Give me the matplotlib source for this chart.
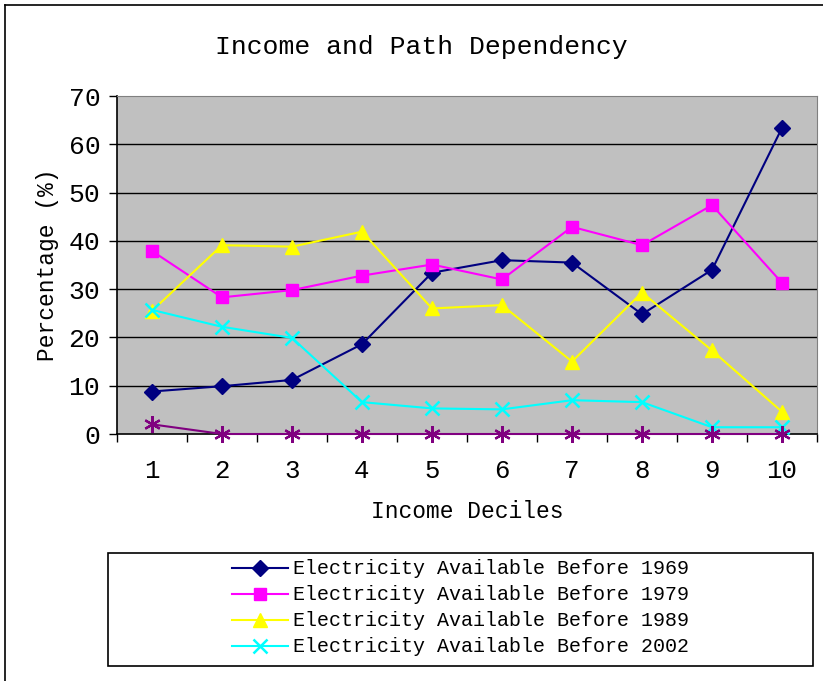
import matplotlib
matplotlib.use("Agg")
import matplotlib.pyplot as plt
from matplotlib.lines import Line2D
from matplotlib.patches import Rectangle

plt.rcParams['font.family'] = ['Liberation Mono', 'DejaVu Sans Mono']

deciles = [1, 2, 3, 4, 5, 6, 7, 8, 9, 10]
before_1969 = [8.8, 9.9, 11.2, 18.6, 33.4, 36.0, 35.5, 24.8, 34.0, 63.4]
before_1979 = [37.9, 28.3, 29.8, 32.8, 35.1, 32.0, 42.9, 39.1, 47.4, 31.3]
before_1989 = [25.5, 39.1, 38.8, 41.9, 26.0, 26.7, 15.0, 29.3, 17.3, 4.6]
before_2002 = [25.7, 22.2, 19.9, 6.6, 5.3, 5.1, 7.0, 6.6, 1.4, 1.4]
unlisted = [2.0, 0, 0, 0, 0, 0, 0, 0, 0, 0]
yticks = [0, 10, 20, 30, 40, 50, 60, 70]

W, H = 823, 681
fig = plt.figure(figsize=(W/100, H/100), dpi=100)

# outer chart frame
fig.add_artist(Line2D([5/W, 5/W], [0, 1-5/H], transform=fig.transFigure, color='black', lw=1.2))
fig.add_artist(Line2D([5/W, 1], [1-5/H, 1-5/H], transform=fig.transFigure, color='black', lw=1.2))

ax = fig.add_axes([117/W, 1-434/H, 700/W, 338/H])
ax.set_facecolor('#c0c0c0')
ax.set_xlim(0.5, 10.5)
ax.set_ylim(0, 70)

for v in yticks[1:-1]:
    ax.axhline(v, color='black', lw=1.0, zorder=1)

ax.plot(deciles, before_1969, color='#000080', marker='D', ms=8, lw=1.5, label='Electricity Available Before 1969', zorder=3, clip_on=False)
ax.plot(deciles, before_1979, color='#ff00ff', marker='s', ms=9, lw=1.5, label='Electricity Available Before 1979', zorder=3, clip_on=False)
ax.plot(deciles, before_1989, color='#ffff00', marker='^', ms=10, lw=1.5, label='Electricity Available Before 1989', zorder=3, clip_on=False)
ax.plot(deciles, before_2002, color='#00ffff', marker='x', ms=10, mew=1.8, lw=1.5, label='Electricity Available Before 2002', zorder=3, clip_on=False)
ax.plot(deciles, unlisted, color='#800080', marker=(6, 2, 0), ms=12, mew=1.6, lw=1.5, zorder=4, clip_on=False)

for side in ['top', 'right']:
    ax.spines[side].set_color('#808080')
for side in ['left', 'bottom']:
    ax.spines[side].set_color('black')
    ax.spines[side].set_linewidth(1.2)

ax.set_yticks(yticks)
ax.set_yticklabels([str(v) for v in yticks], fontsize=19)
ax.tick_params(axis='y', direction='out', length=6, pad=6, width=1)
ax.set_xticks([x + 0.5 for x in range(0, 11)])
ax.set_xticklabels([])
ax.tick_params(axis='x', which='major', direction='out', length=6, width=1)
ax.set_xticks(deciles, minor=True)
ax.set_xticklabels([str(d) for d in deciles], minor=True, fontsize=18.5)
ax.tick_params(axis='x', which='minor', length=0, pad=18)

ax.set_xlabel('Income Deciles', fontsize=16.5, labelpad=12)
ax.set_ylabel('Percentage (%)', fontsize=16.5, labelpad=7)
fig.text(421/W, 1-47/H, 'Income and Path Dependency', fontsize=19, ha='center', va='center')

# legend box
fig.add_artist(Rectangle((108/W, 1-666/H), 705/W, 113/H, transform=fig.transFigure,
                         facecolor='white', edgecolor='black', lw=1.2))
handles, labels = ax.get_legend_handles_labels()
fig.legend(handles, labels, loc='center', bbox_to_anchor=(461/W, 1-608/H),
           frameon=False, fontsize=14.4, handlelength=2.8, handletextpad=0.25,
           labelspacing=0.35, borderpad=0)

fig.savefig('out.png', dpi=100)
